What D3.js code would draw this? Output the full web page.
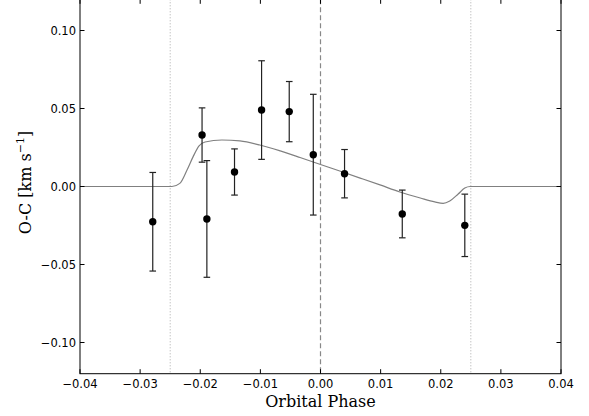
<!DOCTYPE html>
<html>
<head>
<meta charset="utf-8">
<script src="https://cdn.jsdelivr.net/npm/d3@7"></script>
<style>
html,body{margin:0;padding:0;background:#fff;}
svg{display:block;}
</style>
</head>
<body>
<svg id="chart" width="589" height="416"></svg>
<script>
// Observed O-C residuals
const phase = [-0.0279, -0.0197, -0.0189, -0.0143, -0.0098, -0.0052, -0.0012, 0.0040, 0.0136, 0.0240];
const oc    = [-0.0226,  0.0330, -0.0208,  0.0093,  0.0490,  0.0480,  0.0204, 0.0082, -0.0176, -0.0249];
const err   = [ 0.0316,  0.0174,  0.0374,  0.0148,  0.0316,  0.0193,  0.0387, 0.0155,  0.0153,  0.0200];

// Model curve
const modelPhase = [-0.040, -0.0247, -0.0234, -0.0222, -0.0212, -0.0202, -0.0192, -0.0164, -0.0134, -0.0101, -0.0067, -0.0034, 0.0000, 0.0032, 0.0066, 0.0099, 0.0132, 0.0166, 0.0190, 0.0204, 0.0215, 0.0229, 0.0240, 0.0249, 0.040];
const modelOC    = [ 0.000,  0.0000,  0.0020,  0.0106,  0.0190,  0.0260,  0.0285,  0.0298,  0.0292,  0.0266,  0.0228,  0.0186, 0.0141, 0.0099, 0.0054, 0.0010, -0.0035, -0.0074, -0.0099, -0.0108, -0.0093, -0.0048, -0.0010, 0.0000, 0.000];

// Reference lines
const contactLines = [-0.025, 0.025];
const centerLine = [0.0];

const xTicks = [-0.04, -0.03, -0.02, -0.01, 0.00, 0.01, 0.02, 0.03, 0.04];
const yTicks = [-0.10, -0.05, 0.00, 0.05, 0.10];

const svg = d3.select("#chart");
const L = 80, R = 561, T = -0.7, B = 373.7;
const x = d3.scaleLinear().domain([-0.04, 0.04]).range([L, R]);
const y = d3.scaleLinear().domain([-0.12, 0.12]).range([B, T]);

const fmt = v => {
  const s = Math.abs(v).toFixed(2);
  return (v < -1e-9 ? "\u2212" : "") + s;
};

// vertical reference lines
svg.selectAll("line.contact").data(contactLines).enter().append("line")
  .attr("x1", d => x(d)).attr("x2", d => x(d)).attr("y1", T).attr("y2", B)
  .attr("stroke", "#aaa").attr("stroke-width", 1).attr("stroke-dasharray", "1,2");
svg.selectAll("line.center").data(centerLine).enter().append("line")
  .attr("x1", d => x(d)).attr("x2", d => x(d)).attr("y1", T).attr("y2", B)
  .attr("stroke", "#888").attr("stroke-width", 1.2).attr("stroke-dasharray", "5,3");

// model curve
const model = modelPhase.map((p, i) => [p, modelOC[i]]);
svg.append("path").datum(model)
  .attr("fill", "none").attr("stroke", "#808080").attr("stroke-width", 1.2)
  .attr("d", d3.line().x(d => x(d[0])).y(d => y(d[1])).curve(d3.curveMonotoneX));

// error bars
const pts = phase.map((p, i) => ({p, v: oc[i], e: err[i]}));
const eb = svg.append("g").attr("stroke", "#222").attr("stroke-width", 1.2);
pts.forEach(d => {
  eb.append("line").attr("x1", x(d.p)).attr("x2", x(d.p)).attr("y1", y(d.v + d.e)).attr("y2", y(d.v - d.e));
  [d.v + d.e, d.v - d.e].forEach(yy => {
    eb.append("line").attr("x1", x(d.p) - 3.3).attr("x2", x(d.p) + 3.3).attr("y1", y(yy)).attr("y2", y(yy));
  });
});
svg.selectAll("circle.pt").data(pts).enter().append("circle")
  .attr("cx", d => x(d.p)).attr("cy", d => y(d.v)).attr("r", 3.7).attr("fill", "#000");

// spines
const sp = svg.append("g").attr("stroke", "#000").attr("stroke-width", 1).attr("fill", "none");
sp.append("rect").attr("x", L).attr("y", T).attr("width", R - L).attr("height", B - T);

// ticks (inward)
const tk = svg.append("g").attr("stroke", "#000").attr("stroke-width", 1);
xTicks.forEach(t => {
  tk.append("line").attr("x1", x(t)).attr("x2", x(t)).attr("y1", B).attr("y2", B - 4.5);
  tk.append("line").attr("x1", x(t)).attr("x2", x(t)).attr("y1", T).attr("y2", T + 4.5);
});
yTicks.forEach(t => {
  tk.append("line").attr("x1", L).attr("x2", L + 4.5).attr("y1", y(t)).attr("y2", y(t));
  tk.append("line").attr("x1", R).attr("x2", R - 4.5).attr("y1", y(t)).attr("y2", y(t));
});

// tick labels
const tf = "'DejaVu Sans', sans-serif";
svg.selectAll("text.xt").data(xTicks).enter().append("text")
  .attr("x", d => x(d)).attr("y", B + 14)
  .attr("text-anchor", "middle").attr("font-family", tf).attr("font-size", 11.5)
  .attr("fill", "#000").text(fmt);
svg.selectAll("text.yt").data(yTicks).enter().append("text")
  .attr("x", L - 4).attr("y", d => y(d)).attr("dy", "0.35em")
  .attr("text-anchor", "end").attr("font-family", tf).attr("font-size", 11.5)
  .attr("fill", "#000").text(fmt);

// axis labels
const lf = "'DejaVu Serif', serif";
svg.append("text").attr("x", x(0)).attr("y", 407)
  .attr("text-anchor", "middle").attr("font-family", lf).attr("font-size", 16)
  .attr("fill", "#000").text("Orbital Phase");

const yl = svg.append("text")
  .attr("transform", `translate(31,${y(0) - 4}) rotate(-90)`)
  .attr("text-anchor", "middle").attr("font-family", lf).attr("font-size", 16)
  .attr("fill", "#000");
yl.append("tspan").text("O-C [km s");
yl.append("tspan").attr("dy", -7).attr("font-size", 11).text("\u22121");
yl.append("tspan").attr("dy", 7).text("]");
</script>
</body>
</html>
